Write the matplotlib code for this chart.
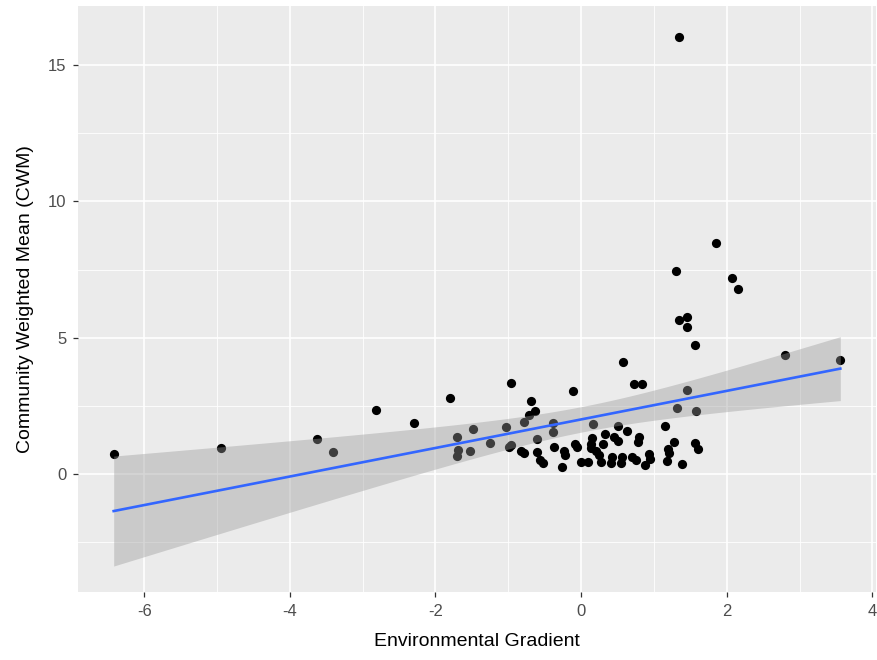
import numpy as np
import matplotlib
matplotlib.use("Agg")
import matplotlib.pyplot as plt
from matplotlib.ticker import MultipleLocator

plt.rcParams['axes.unicode_minus'] = False

# values
gradient = [-6.42, -4.94, -3.63, -3.41, -2.82, -2.30, -1.80, -1.70, -1.69, -1.71,
            -1.52, -1.48, -1.25, -1.03, -0.96, -0.96, -0.99, -0.83, -0.79, -0.78,
            -0.72, -0.69, -0.64, -0.60, -0.60, -0.56, -0.53, -0.39, -0.39, -0.37,
            -0.24, -0.22, -0.26, -0.11, -0.09, -0.05, 0.00, 0.09, 0.13, 0.14,
            0.15, 0.17, 0.21, 0.24, 0.27, 0.30, 0.33, 0.41, 0.42, 0.45,
            0.50, 0.51, 0.55, 0.56, 0.58, 0.63, 0.70, 0.72, 0.76, 0.78,
            0.80, 0.84, 0.88, 0.93, 0.95, 1.15, 1.18, 1.19, 1.21, 1.27,
            1.30, 1.31, 1.35, 1.35, 1.38, 1.46, 1.46, 1.46, 1.57, 1.57,
            1.60, 1.58, 1.85, 2.07, 2.16, 2.80, 3.56]
cwm = [0.73, 0.97, 1.27, 0.80, 2.36, 1.88, 2.79, 1.37, 0.88, 0.66,
       0.86, 1.64, 1.15, 1.71, 3.33, 1.06, 0.98, 0.86, 0.78, 1.92,
       2.17, 2.67, 2.31, 1.27, 0.80, 0.52, 0.42, 1.88, 1.55, 0.98,
       0.84, 0.68, 0.27, 3.03, 1.10, 1.00, 0.45, 0.45, 0.94, 1.10,
       1.31, 1.82, 0.86, 0.70, 0.45, 1.10, 1.47, 0.39, 0.63, 1.37,
       1.22, 1.77, 0.39, 0.63, 4.11, 1.58, 0.63, 3.29, 0.51, 1.19,
       1.35, 3.31, 0.33, 0.72, 0.54, 1.77, 0.49, 0.91, 0.76, 1.16,
       7.45, 2.41, 16.04, 5.64, 0.37, 5.75, 5.38, 3.08, 4.72, 1.15,
       0.91, 2.31, 8.47, 7.19, 6.78, 4.37, 4.17]

x = np.array(gradient)
y = np.array(cwm)

# linear fit with 95% confidence band (like geom_smooth(method="lm"))
n = len(x)
b, a = np.polyfit(x, y, 1)
resid = y - (a + b * x)
s = np.sqrt(np.sum(resid ** 2) / (n - 2))
xs = np.linspace(x.min(), x.max(), 80)
ys = a + b * xs
se = s * np.sqrt(1.0 / n + (xs - x.mean()) ** 2 / np.sum((x - x.mean()) ** 2))
tval = 1.988
lo = ys - tval * se
hi = ys + tval * se

fig = plt.figure(figsize=(8.78, 6.6), dpi=100)
ax = fig.add_axes([78 / 878, 68 / 660, 798 / 878, 586 / 660])
ax.set_facecolor("#EBEBEB")

ax.scatter(x, y, s=44, color="black", zorder=3, linewidths=0)
ax.fill_between(xs, lo, hi, color="#999999", alpha=0.4, linewidth=0, zorder=4)
ax.plot(xs, ys, color="#3366FF", lw=1.9, zorder=5)

ax.set_xlim(-6.91, 4.05)
ax.set_ylim(-4.33, 17.17)
ax.xaxis.set_major_locator(MultipleLocator(2))
ax.xaxis.set_minor_locator(MultipleLocator(1))
ax.yaxis.set_major_locator(MultipleLocator(5))
ax.yaxis.set_minor_locator(MultipleLocator(2.5))
ax.grid(which="major", color="white", lw=1.2, zorder=0)
ax.grid(which="minor", color="white", lw=0.6, zorder=0)
ax.set_axisbelow(True)
for sp in ax.spines.values():
    sp.set_visible(False)

ax.tick_params(which="major", length=3.5, width=0.9, color="#333333",
               labelcolor="#4D4D4D", labelsize=12, pad=5)
ax.tick_params(which="minor", length=0)
for lab in ax.get_xticklabels() + ax.get_yticklabels():
    lab.set_family("Liberation Sans")

ax.set_xlabel("Environmental Gradient", fontsize=14, family="Liberation Sans", labelpad=10)
ax.set_ylabel("Community Weighted Mean (CWM)", fontsize=14, family="Liberation Sans", labelpad=10)

fig.savefig("out.png", dpi=100)
